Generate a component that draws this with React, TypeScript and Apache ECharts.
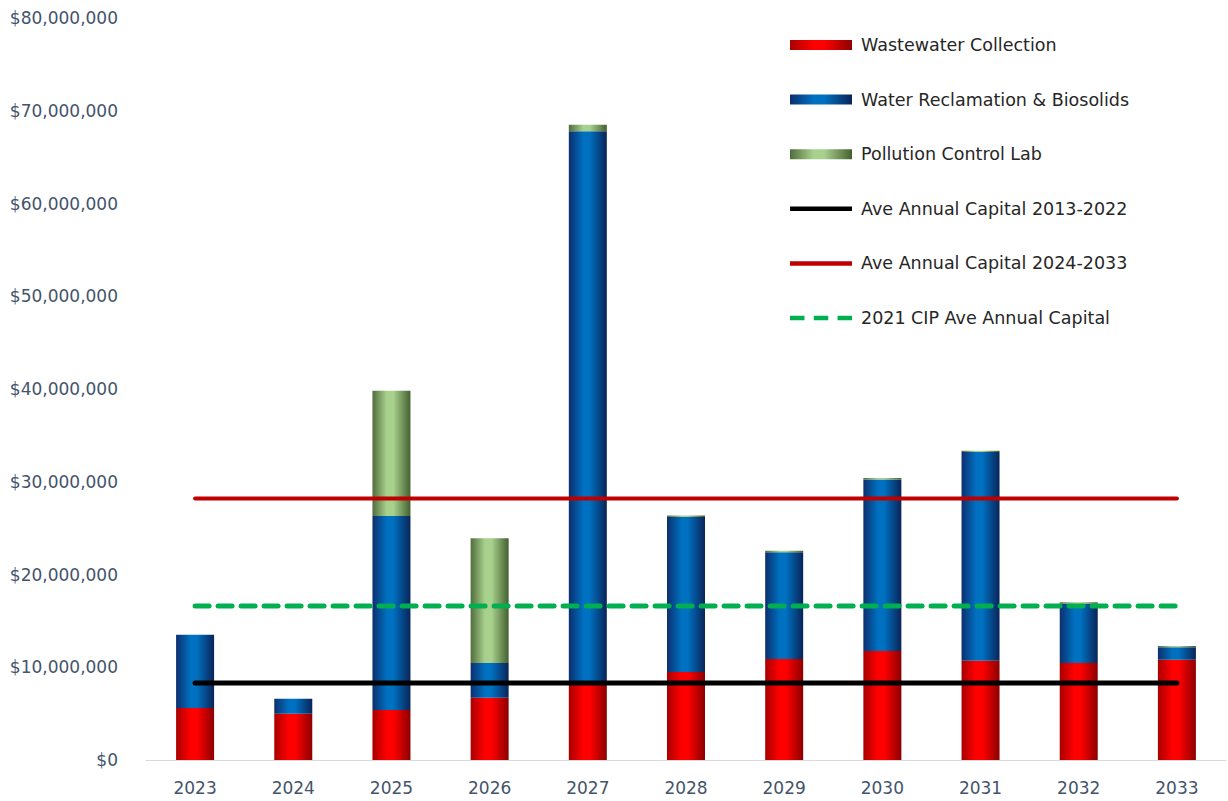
import React, { useEffect, useRef } from "react";
import * as echarts from "echarts";

// Capital spending by program area, in dollars
const years = ["2023", "2024", "2025", "2026", "2027", "2028", "2029", "2030", "2031", "2032", "2033"];
const wastewaterCollection = [5.6e6, 5.0e6, 5.4e6, 6.7e6, 8.1e6, 9.5e6, 10.9e6, 11.75e6, 10.7e6, 10.45e6, 10.8e6];
const waterReclamation = [7.9e6, 1.6e6, 20.9e6, 3.75e6, 59.7e6, 16.7e6, 11.5e6, 18.5e6, 22.5e6, 6.4e6, 1.35e6];
const pollutionControlLab = [0, 0, 13.5e6, 13.45e6, 0.7e6, 0.15e6, 0.15e6, 0.15e6, 0.15e6, 0.15e6, 0.15e6];

// Average annual capital reference levels
const aveCapital2013to2022 = 8.3e6;
const aveCapital2024to2033 = 28.2e6;
const cip2021AveCapital = 16.6e6;

const yTicks = { min: 0, max: 80e6, interval: 10e6 };

const FONT = "'DejaVu Sans', 'Open Sans', sans-serif";
const AXIS_TEXT = "#44546a";

// Legend icon shapes: flat band for bars and solid lines, three dashes for the dashed line
const BAND_ICON = "path://M0,0L62,0L62,10L0,10Z";
const LINE_ICON = "path://M0,0L62,0L62,4.5L0,4.5Z";
const DASH_ICON = "path://M0,0L14,0L14,4.5L0,4.5Z M23,0L37,0L37,4.5L23,4.5Z M46,0L60,0L60,4.5L46,4.5Z";

const barGradient = (edgeL: string, mid: string, edgeR: string) =>
  new echarts.graphic.LinearGradient(0, 0, 1, 0, [
    { offset: 0, color: edgeL },
    { offset: 0.38, color: mid },
    { offset: 0.55, color: mid },
    { offset: 1, color: edgeR },
  ]);

const spanLine = (v: number) => [
  [years[0], v],
  [years[years.length - 1], v],
];

export default function App() {
  const ref = useRef<HTMLDivElement>(null);

  useEffect(() => {
    if (!ref.current) return;
    const chart = echarts.init(ref.current, null, { renderer: "svg" });

    const barSeries = (name: string, data: number[], color: any) => ({
      name,
      type: "bar",
      stack: "capital",
      data,
      barWidth: 38,
      itemStyle: { color },
      z: 2,
    });

    const lineSeries = (name: string, v: number, color: string, type: any, width: number) => ({
      name,
      type: "line",
      data: spanLine(v),
      symbol: "none",
      lineStyle: { color, width, type, cap: "round" },
      itemStyle: { color },
      z: 5,
    });

    chart.setOption({
      animation: false,
      backgroundColor: "#ffffff",
      textStyle: { fontFamily: FONT },
      grid: { left: 146, right: 2, top: 18, bottom: 41 },
      legend: {
        orient: "vertical",
        left: 790,
        top: 35,
        padding: 0,
        itemWidth: 62,
        itemHeight: 10,
        itemGap: 34.6,
        textStyle: {
          fontFamily: FONT,
          fontSize: 17.5,
          lineHeight: 20,
          color: "#262626",
          padding: [0, 0, 0, 4],
        },
        data: [
          { name: "Wastewater Collection", icon: BAND_ICON },
          { name: "Water Reclamation & Biosolids", icon: BAND_ICON },
          { name: "Pollution Control Lab", icon: BAND_ICON },
          { name: "Ave Annual Capital 2013-2022", icon: LINE_ICON },
          { name: "Ave Annual Capital 2024-2033", icon: LINE_ICON },
          { name: "2021 CIP Ave Annual Capital", icon: DASH_ICON },
        ],
      },
      xAxis: {
        type: "category",
        data: years,
        axisLine: { lineStyle: { color: "#d9d9d9", width: 1 } },
        axisTick: { show: false },
        axisLabel: { color: AXIS_TEXT, fontSize: 17, margin: 19, fontFamily: FONT },
      },
      yAxis: {
        type: "value",
        min: yTicks.min,
        max: yTicks.max,
        interval: yTicks.interval,
        splitLine: { show: false },
        axisLine: { show: false },
        axisTick: { show: false },
        axisLabel: {
          color: AXIS_TEXT,
          fontSize: 17,
          margin: 28,
          fontFamily: FONT,
          formatter: (v: number) => "$" + v.toLocaleString("en-US"),
        },
      },
      series: [
        barSeries("Wastewater Collection", wastewaterCollection, barGradient("#a80000", "#ff0000", "#8c0000")),
        barSeries("Water Reclamation & Biosolids", waterReclamation, barGradient("#0c2f6e", "#0070c0", "#0a2458")),
        barSeries("Pollution Control Lab", pollutionControlLab, barGradient("#4f6d3c", "#a9d18e", "#43602f")),
        lineSeries("Ave Annual Capital 2013-2022", aveCapital2013to2022, "#000000", "solid", 5),
        lineSeries("Ave Annual Capital 2024-2033", aveCapital2024to2033, "#c00000", "solid", 4),
        lineSeries("2021 CIP Ave Annual Capital", cip2021AveCapital, "#00b050", [14, 9], 5),
      ],
    });

    return () => chart.dispose();
  }, []);

  return (
    <div
      ref={ref}
      style={{ position: "fixed", left: 0, top: 0, width: 1228, height: 801 }}
    />
  );
}
